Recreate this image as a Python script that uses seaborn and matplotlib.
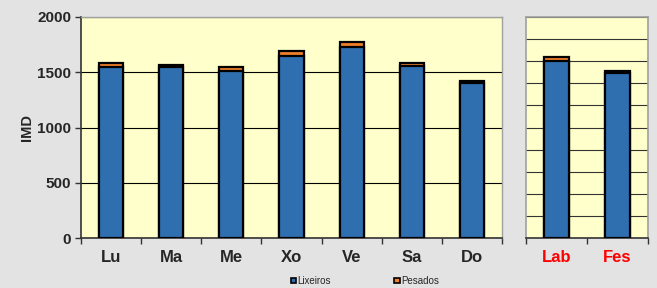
import matplotlib
matplotlib.use("Agg")
import matplotlib.pyplot as plt
import seaborn as sns
import pandas as pd
from matplotlib.patches import Patch

days = ["Lu", "Ma", "Me", "Xo", "Ve", "Sa", "Do"]
lixeiros_days = [1550, 1545, 1515, 1650, 1730, 1560, 1400]
pesados_days = [30, 22, 30, 40, 40, 25, 22]

groups = ["Lab", "Fes"]
lixeiros_groups = [1605, 1490]
pesados_groups = [35, 25]

yticks = [0, 500, 1000, 1500, 2000]
series_names = ["Lixeiros", "Pesados"]

BLUE = "#2F6FB0"
ORANGE = "#F07F2A"
PLOT_BG = "#FFFFCC"
FIG_BG = "#E3E3E3"

sns.set_style("white")
plt.rcParams["font.family"] = ["Liberation Sans", "DejaVu Sans"]

fig = plt.figure(figsize=(6.57, 2.88), dpi=100, facecolor=FIG_BG)
ax1 = fig.add_axes([81 / 657, 1 - 238 / 288, (502 - 81) / 657, (238 - 17) / 288])
ax2 = fig.add_axes([526 / 657, 1 - 238 / 288, (648 - 526) / 657, (238 - 17) / 288])


def draw(ax, cats, lix, pes, width):
    df = pd.DataFrame({"cat": cats, "lix": lix,
                       "tot": [a + b for a, b in zip(lix, pes)]})
    sns.barplot(data=df, x="cat", y="tot", color=ORANGE, saturation=1,
                width=width, edgecolor="black", linewidth=1.6, ax=ax, zorder=3)
    sns.barplot(data=df, x="cat", y="lix", color=BLUE, saturation=1,
                width=width, edgecolor="black", linewidth=1.6, ax=ax, zorder=3)
    ax.set_facecolor(PLOT_BG)
    ax.set_xlim(-0.5, len(cats) - 0.5)
    ax.set_ylim(0, 2000)
    ax.set_xlabel("")
    ax.set_ylabel("")
    ax.set_xticks(range(len(cats)))
    ax.set_xticklabels(cats)
    ax.set_xticks([i - 0.5 for i in range(len(cats) + 1)], minor=True)
    ax.tick_params(axis="x", which="major", length=0, pad=9)
    ax.tick_params(axis="x", which="minor", length=4, width=1, color="#333333",
                   direction="out", bottom=True)
    ax.set_axisbelow(True)
    for lab in ax.get_xticklabels():
        lab.set_fontweight("bold")
        lab.set_fontsize(12)


draw(ax1, days, lixeiros_days, pesados_days, 0.4)
draw(ax2, groups, lixeiros_groups, pesados_groups, 0.42)

ax1.set_yticks(yticks)
ax1.set_yticklabels([str(v) for v in yticks], fontweight="bold", fontsize=11)
ax1.tick_params(axis="y", length=4, width=1, color="#333333", direction="out", left=True, pad=3)
ax1.yaxis.grid(True, color="black", linewidth=0.8)
ax1.set_ylabel("IMD", fontweight="bold", fontsize=10.5, labelpad=2)
for s in ["top", "right"]:
    ax1.spines[s].set_color("#A0A0A0")
    ax1.spines[s].set_linewidth(1)
for s in ["left", "bottom"]:
    ax1.spines[s].set_color("#333333")
    ax1.spines[s].set_linewidth(1.2)

ax2.set_yticks(range(0, 2001, 200))
ax2.set_yticklabels([])
ax2.tick_params(axis="y", length=0)
ax2.yaxis.grid(True, color="#333333", linewidth=0.8)
for s in ["top", "right", "left"]:
    ax2.spines[s].set_color("#A0A0A0")
    ax2.spines[s].set_linewidth(1.2)
ax2.spines["bottom"].set_color("#333333")
ax2.spines["bottom"].set_linewidth(1.2)
for lab in ax2.get_xticklabels():
    lab.set_color("red")

handles = [Patch(facecolor=BLUE, edgecolor="black", linewidth=1.2),
           Patch(facecolor=ORANGE, edgecolor="black", linewidth=1.2)]
fig.legend(handles, series_names, loc="center", bbox_to_anchor=(365 / 657, 1 - 281 / 288),
           ncol=2, frameon=False, fontsize=7, handlelength=0.55, handleheight=0.55,
           handletextpad=0.15, columnspacing=6.5)

fig.savefig("out.png", dpi=100, facecolor=FIG_BG)
